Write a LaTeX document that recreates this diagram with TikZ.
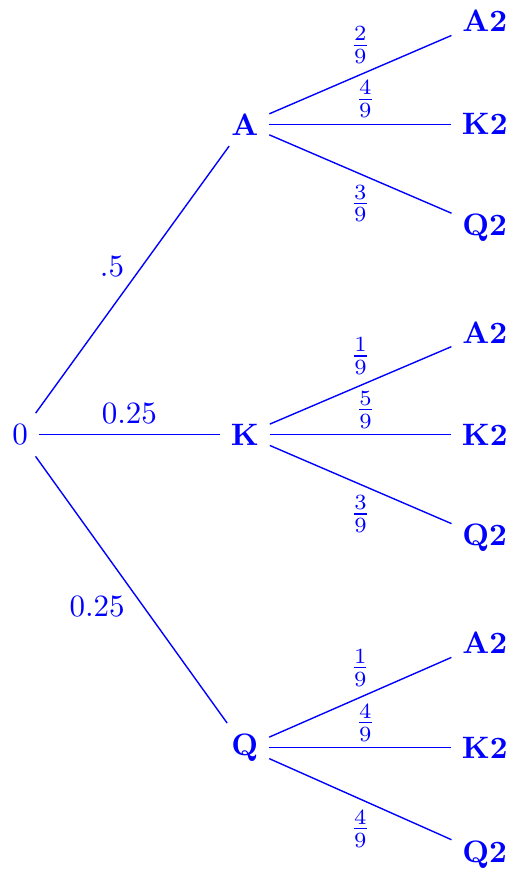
\documentclass[tikz,border=0pt]{standalone}
\usepackage{amsmath}
\usetikzlibrary{positioning}
\tikzset{
  rootnode/.style={text=blue},
  cardnode/.style={text=blue, font=\bfseries},
  branch/.style={draw=blue, line width=0.45pt},
  plabel/.style={text=blue},
}

\begin{document}
\begin{tikzpicture}
  \useasboundingbox (-0.227,-4.97) rectangle (5.59,4.93);
  % first draw
  \node[rootnode] (r) at (0,0) {0};
  \node[cardnode] (A) at (2.55,3.52) {A};
  \node[cardnode] (K) at (2.55,0) {K};
  \node[cardnode] (Q) at (2.55,-3.55) {Q};
  % second draw
  \node[cardnode] (AA) at (5.27,4.69) {A2};
  \node[cardnode] (AK) at (5.27,3.52) {K2};
  \node[cardnode] (AQ) at (5.27,2.35) {Q2};
  \node[cardnode] (KA) at (5.27,1.16) {A2};
  \node[cardnode] (KK) at (5.27,0) {K2};
  \node[cardnode] (KQ) at (5.27,-1.17) {Q2};
  \node[cardnode] (QA) at (5.27,-2.36) {A2};
  \node[cardnode] (QK) at (5.27,-3.55) {K2};
  \node[cardnode] (QQ) at (5.27,-4.76) {Q2};
  \draw[branch] (r) -- node[plabel, above left, xshift=0.03cm, yshift=-0.1cm] {.5} (A);
  \draw[branch] (r) -- node[plabel, above] {0.25} (K);
  \draw[branch] (r) -- node[plabel, below left, xshift=0.05cm, yshift=0.05cm] {0.25} (Q);
  \draw[branch] (A) -- node[plabel, above] {$\frac{2}{9}$} (AA);
  \draw[branch] (A) -- node[plabel, above, xshift=0.06cm, yshift=-0.05cm] {$\frac{4}{9}$} (AK);
  \draw[branch] (A) -- node[plabel, below] {$\frac{3}{9}$} (AQ);
  \draw[branch] (K) -- node[plabel, above] {$\frac{1}{9}$} (KA);
  \draw[branch] (K) -- node[plabel, above, xshift=0.06cm, yshift=-0.05cm] {$\frac{5}{9}$} (KK);
  \draw[branch] (K) -- node[plabel, below] {$\frac{3}{9}$} (KQ);
  \draw[branch] (Q) -- node[plabel, above] {$\frac{1}{9}$} (QA);
  \draw[branch] (Q) -- node[plabel, above, xshift=0.06cm, yshift=-0.05cm] {$\frac{4}{9}$} (QK);
  \draw[branch] (Q) -- node[plabel, below] {$\frac{4}{9}$} (QQ);
\end{tikzpicture}
\end{document}
